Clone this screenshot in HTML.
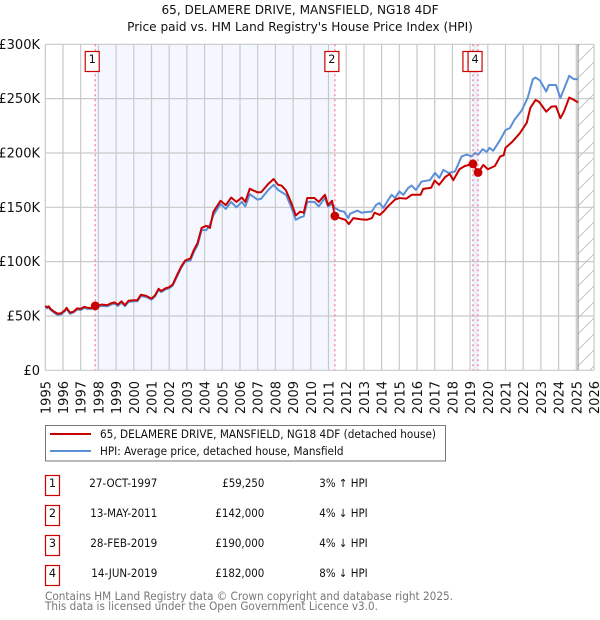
<!DOCTYPE html>
<html lang="en">
<head>
<meta charset="utf-8">
<title>65, Delamere Drive price chart</title>
<style>
html,body{margin:0;padding:0;background:#fff;width:600px;height:620px;overflow:hidden}
svg{display:block;font-family:"DejaVu Sans","Liberation Sans",sans-serif}
</style>
</head>
<body>
<svg id="chart" width="600" height="620" viewBox="0 0 600 620" xmlns="http://www.w3.org/2000/svg">
<defs>
<pattern id="hatch" patternUnits="userSpaceOnUse" width="16" height="16">
<path d="M-2 18 L18 -2" stroke="#c4c4c4" stroke-width="1"/>
</pattern>
</defs>
<text x="300" y="14" text-anchor="middle" font-size="12.1" fill="#111">65, DELAMERE DRIVE, MANSFIELD, NG18 4DF</text>
<text x="300" y="31" text-anchor="middle" font-size="12.1" fill="#111">Price paid vs. HM Land Registry's House Price Index (HPI)</text>
<g id="bands"></g>
<g id="grid"></g>
<g id="xticks" font-size="13" fill="#111"></g>
<g id="yticks" font-size="13" fill="#111"></g>
<g id="series"></g>
<g id="sales"></g>

<g>
<rect x="45.5" y="425.5" width="400" height="35.5" fill="#fff" stroke="#777" stroke-width="1"/>
<line x1="50" x2="91" y1="434" y2="434" stroke="#c80000" stroke-width="2"/>
<text x="100" y="438" font-size="11.3" fill="#111" textLength="336" lengthAdjust="spacingAndGlyphs">65, DELAMERE DRIVE, MANSFIELD, NG18 4DF (detached house)</text>
<line x1="50" x2="91" y1="451" y2="451" stroke="#5b8fd6" stroke-width="2"/>
<text x="100" y="455" font-size="11.3" fill="#111" textLength="243.5" lengthAdjust="spacingAndGlyphs">HPI: Average price, detached house, Mansfield</text>
</g>

<g font-size="11.3" fill="#111">
<rect x="45.5" y="475.5" width="14" height="20" fill="#fff" stroke="#c00" stroke-width="1.2"/>
<text x="52.5" y="487" text-anchor="middle">1</text>
<text x="89.3" y="487" textLength="68" lengthAdjust="spacingAndGlyphs">27-OCT-1997</text>
<text x="222.3" y="487" textLength="42" lengthAdjust="spacingAndGlyphs">£59,250</text>
<text x="319.3" y="487" textLength="48.4" lengthAdjust="spacingAndGlyphs">3% ↑ HPI</text>
<rect x="45.5" y="505.5" width="14" height="20" fill="#fff" stroke="#c00" stroke-width="1.2"/>
<text x="52.5" y="517" text-anchor="middle">2</text>
<text x="90.3" y="517" textLength="67" lengthAdjust="spacingAndGlyphs">13-MAY-2011</text>
<text x="215.3" y="517" textLength="49" lengthAdjust="spacingAndGlyphs">£142,000</text>
<text x="319.3" y="517" textLength="48.4" lengthAdjust="spacingAndGlyphs">4% ↓ HPI</text>
<rect x="45.5" y="535.5" width="14" height="20" fill="#fff" stroke="#c00" stroke-width="1.2"/>
<text x="52.5" y="547" text-anchor="middle">3</text>
<text x="90.3" y="547" textLength="67" lengthAdjust="spacingAndGlyphs">28-FEB-2019</text>
<text x="215.3" y="547" textLength="49" lengthAdjust="spacingAndGlyphs">£190,000</text>
<text x="319.3" y="547" textLength="48.4" lengthAdjust="spacingAndGlyphs">4% ↓ HPI</text>
<rect x="45.5" y="565.5" width="14" height="20" fill="#fff" stroke="#c00" stroke-width="1.2"/>
<text x="52.5" y="577" text-anchor="middle">4</text>
<text x="91.3" y="577" textLength="66" lengthAdjust="spacingAndGlyphs">14-JUN-2019</text>
<text x="215.3" y="577" textLength="49" lengthAdjust="spacingAndGlyphs">£182,000</text>
<text x="319.3" y="577" textLength="48.4" lengthAdjust="spacingAndGlyphs">8% ↓ HPI</text>
</g>

<text x="45" y="600" font-size="11.3" fill="#777" textLength="408" lengthAdjust="spacingAndGlyphs">Contains HM Land Registry data © Crown copyright and database right 2025.</text>
<text x="45" y="610" font-size="11.3" fill="#777" textLength="333" lengthAdjust="spacingAndGlyphs">This data is licensed under the Open Government Licence v3.0.</text>
</svg>
<script>
const yearLabels = ['1995','1996','1997','1998','1999','2000','2001','2002','2003','2004','2005','2006','2007','2008','2009','2010','2011','2012','2013','2014','2015','2016','2017','2018','2019','2020','2021','2022','2023','2024','2025','2026'];
const yTickValues = [0,50,100,150,200,250,300];
const yTickLabels = ['£0','£50K','£100K','£150K','£200K','£250K','£300K'];

const saleNumbers = ['1','2','3','4'];
const saleDates = [1997.82,2011.36,2019.16,2019.45];
const salePrices = [59.25,142,190,182];
const dataEndDate = 2025.1;

const priceDates = [1995,1995.1,1995.2,1995.3,1995.5,1995.7,1995.9,1996,1996.1,1996.2,1996.4,1996.6,1996.8,1997,1997.2,1997.4,1997.6,1997.82,1998,1998.2,1998.5,1998.7,1998.9,1999.1,1999.3,1999.5,1999.7,2000,2000.2,2000.4,2000.7,2001,2001.2,2001.4,2001.55,2001.8,2002,2002.2,2002.5,2002.7,2002.9,2003.2,2003.4,2003.6,2003.83,2004.1,2004.3,2004.5,2004.9,2005.2,2005.5,2005.8,2006.1,2006.3,2006.55,2007,2007.2,2007.6,2007.9,2008.15,2008.35,2008.6,2008.9,2009.15,2009.4,2009.6,2009.8,2010.2,2010.45,2010.8,2010.97,2011.2,2011.36,2011.65,2011.95,2012.15,2012.4,2012.8,2013.15,2013.45,2013.6,2013.9,2014.1,2014.35,2014.75,2015,2015.4,2015.7,2016.2,2016.35,2016.8,2017,2017.25,2017.6,2017.85,2018.05,2018.4,2018.7,2019.16,2019.45,2019.75,2020,2020.4,2020.7,2020.9,2021,2021.4,2021.8,2022.2,2022.4,2022.7,2022.9,2023.3,2023.6,2023.85,2024.1,2024.3,2024.6,2024.85,2025.1];
const priceValues = [59.3,58,58.8,56.5,54,52,52.5,54,55,57.5,53,54,57,56.5,58.4,57.5,57.5,59.25,60,60.5,60,61.5,62.5,60.5,63.5,60,64,64.5,64.5,69.5,68.5,66,69,75,73,75.5,76.5,79,89.6,96,101,103,111,117,131,133,131,146,156,152,159,155,159,155,167,163.7,164,171.6,176,170.7,170,165.5,154,142.5,146,145,158.6,158.6,155,161.5,152,156,142,140,138.5,134.5,140,139,138.5,140,145,143,146,150.7,157,158.5,158,161.5,161.5,167,168,174.6,170.7,178,180.6,175,185,188,190,182,189,185,188,196.8,198,204.7,210.6,218,227.7,241.4,248.8,247,238,242.7,243,232,238,251,249,246.5];

const hpiDates = [1995,1995.1,1995.2,1995.3,1995.5,1995.7,1995.9,1996,1996.1,1996.2,1996.4,1996.6,1996.8,1997,1997.2,1997.4,1997.6,1997.82,1998,1998.2,1998.5,1998.7,1998.9,1999.1,1999.3,1999.5,1999.7,2000,2000.2,2000.4,2000.7,2001,2001.2,2001.4,2001.55,2001.8,2002,2002.2,2002.5,2002.7,2002.9,2003.2,2003.4,2003.6,2003.83,2004.1,2004.3,2004.5,2004.9,2005.2,2005.5,2005.8,2006.1,2006.3,2006.55,2007,2007.2,2007.6,2007.9,2008.15,2008.35,2008.6,2008.9,2009.15,2009.4,2009.6,2009.8,2010.2,2010.45,2010.8,2010.97,2011.2,2011.36,2011.65,2011.88,2012.12,2012.21,2012.63,2012.87,2013.16,2013.44,2013.68,2013.87,2014.1,2014.38,2014.57,2014.76,2015,2015.23,2015.51,2015.7,2015.94,2016.26,2016.73,2017.02,2017.26,2017.49,2017.77,2018.15,2018.52,2018.81,2019.09,2019.28,2019.46,2019.71,2019.94,2020.1,2020.3,2020.7,2021,2021.25,2021.5,2021.9,2022.25,2022.55,2022.7,2022.95,2023.3,2023.45,2023.85,2024.1,2024.25,2024.6,2024.85,2025.1];
const hpiValues = [58.5,57,57.8,55.5,53,51,51.5,53,54.3,56.5,52,53.3,56,55.5,57.4,56.5,56.5,58,58.8,59.3,58.8,60.3,61.5,59.3,62.3,59,63,63.5,63.5,68.3,67.5,65,68,74,72,74.5,75.5,78,88.3,95,100,101,109,115,129,129,134,143,153,148.5,155,150,155,150.8,162,157,158,166,170.7,166,164,161.5,150,138.5,140.7,141.7,155,155,150.8,158.7,150.8,153,149.5,146.7,146,140,144,147,145,145.7,146,152,154,149.5,157,161.5,158.5,164.6,161.5,168,170,166,173.7,175,181.6,177,184.5,181.6,183,196.8,198.5,196.8,200,198.5,203.5,201,204.7,202,212,221,223,230.4,238.7,250.6,268,269.4,266.6,256.6,262.6,262.6,250.6,256.6,271,268,268];

const SVG_NS = 'http://www.w3.org/2000/svg';
const xScale = d => 45.3 + (d - 1995) * (594 - 45.3) / 31;
const yScale = v => 370.3 - v * 326 / 300;

function make(parent, tag, attrs) {
  const el = document.createElementNS(SVG_NS, tag);
  for (const k in attrs) el.setAttribute(k, attrs[k]);
  parent.appendChild(el);
  return el;
}

const bands = document.getElementById('bands');
const grid = document.getElementById('grid');
const xticks = document.getElementById('xticks');
const yticks = document.getElementById('yticks');
const series = document.getElementById('series');
const sales = document.getElementById('sales');
const top_ = yScale(300), bottom_ = yScale(0);

const band1 = make(bands, 'rect', {x: xScale(saleDates[0]), y: top_, width: xScale(saleDates[1]) - xScale(saleDates[0]), height: bottom_ - top_, fill: '#f4f7ff'});


const band2 = make(bands, 'rect', {x: xScale(saleDates[2]), y: top_, width: xScale(saleDates[3]) - xScale(saleDates[2]), height: bottom_ - top_, fill: '#e9f0ff'});


const hatchArea = make(bands, 'rect', {x: xScale(dataEndDate), y: top_, width: xScale(2026) - xScale(dataEndDate), height: bottom_ - top_, fill: 'url(#hatch)'});



yTickValues.forEach((v, i) => {
  const line = make(grid, 'line', {x1: xScale(1995), x2: xScale(2026), y1: yScale(v), y2: yScale(v), stroke: '#c9c9c9', 'stroke-width': 1.2});
  
  
  const label = make(yticks, 'text', {x: 40, y: yScale(v) + 4.5, 'text-anchor': 'end'});
  
  
  label.textContent = yTickLabels[i];
});

yearLabels.forEach(year => {
  const d = Number(year);
  const line = make(grid, 'line', {x1: xScale(d), x2: xScale(d), y1: top_, y2: bottom_, stroke: '#c9c9c9', 'stroke-width': 1.2});
  
  
  const px = xScale(d) + 5;
  const label = make(xticks, 'text', {x: 0, y: 0, 'text-anchor': 'end', transform: 'translate(' + px + ',381) rotate(-90)'});
  
  
  label.textContent = year;
});

const endLine = make(grid, 'line', {x1: xScale(dataEndDate), x2: xScale(dataEndDate), y1: top_, y2: bottom_, stroke: '#a0a0a0', 'stroke-width': 1.3});



function pathFor(dates, values) {
  return dates.map((d, i) => (i ? 'L' : 'M') + xScale(d).toFixed(2) + ' ' + yScale(values[i]).toFixed(2)).join(' ');
}
const hpiLine = make(series, 'path', {d: pathFor(hpiDates, hpiValues), fill: 'none', stroke: '#5b8fd6', 'stroke-width': 2, 'stroke-linejoin': 'round'});


const priceLine = make(series, 'path', {d: pathFor(priceDates, priceValues), fill: 'none', stroke: '#c80000', 'stroke-width': 2, 'stroke-linejoin': 'round'});



saleDates.forEach((d, i) => {
  const px = xScale(d), py = yScale(salePrices[i]);
  const v = make(sales, 'line', {x1: px, x2: px, y1: top_, y2: bottom_, stroke: '#ff7088', 'stroke-width': 1.2, 'stroke-dasharray': '2 3'});
  
  
  const m = make(sales, 'circle', {cx: px, cy: py, r: 4.4, fill: '#c80000'});
  
  
  const box = make(sales, 'rect', {x: px - 10, y: 51.5, width: 14, height: 20, fill: '#fff', stroke: '#c00', 'stroke-width': 1.2});
  
  
  const t = make(sales, 'text', {x: px - 3, y: 63, 'text-anchor': 'middle', 'font-size': 11.3, fill: '#111'});
  
  
  t.textContent = saleNumbers[i];
});
</script>
</body>
</html>
